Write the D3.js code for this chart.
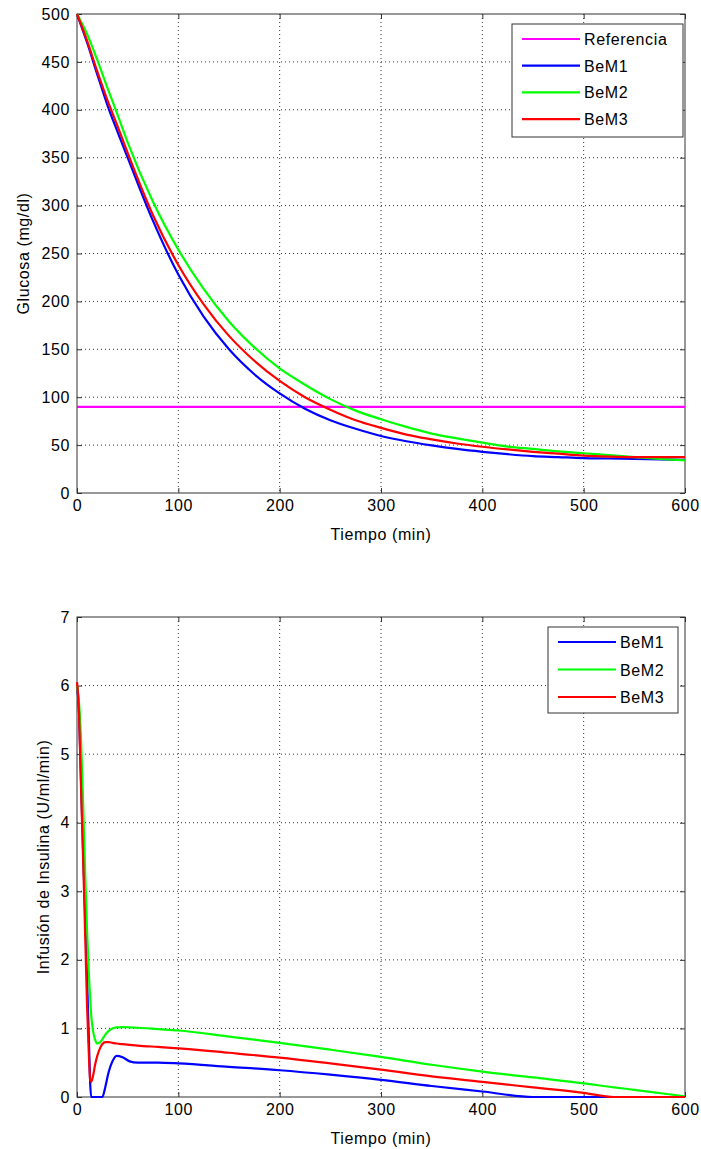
<!DOCTYPE html>
<html>
<head>
<meta charset="utf-8">
<title>Glucosa / Insulina</title>
<script src="https://cdn.jsdelivr.net/npm/d3@7"></script>
<style>
    body { margin: 0; background: #fff; }
    svg text { font-family: "Liberation Sans", Arial, sans-serif; fill: #000; font-size: 16px; letter-spacing: 0.6px; }
    .grid line { stroke: #333; stroke-width: 1; stroke-dasharray: 1,3; }
    .box { fill: none; stroke: #333; stroke-width: 1; }
</style>
</head>
<body>
<script>
    // glucose, mg/dl
    var tGluc = [0, 10, 20, 30, 40, 50, 75, 100, 125, 150, 175, 200, 225, 250, 275, 300, 325, 350, 375, 400, 425, 450, 475, 500, 525, 550, 575, 600];
    var glucBeM1 = [500, 470, 437, 405, 377, 350, 284, 228, 184, 150, 124, 104, 88, 76, 67, 59.5, 54, 49.7, 46, 43, 40.5, 38.5, 37.5, 36.5, 36, 35.5, 35, 34.5];
    var glucBeM2 = [500, 479, 452, 423, 395, 366, 304, 254, 213, 179, 152, 130, 113, 98, 86, 77, 69, 62, 57, 52.5, 48.5, 46, 43.5, 41.5, 39.5, 37.5, 35.5, 34];
    var glucBeM3 = [500, 472, 440, 410, 383, 355, 290, 238, 197, 164, 138, 117, 100, 87, 76, 68, 61, 56, 51.7, 48.3, 45.5, 43, 41, 39, 38, 37.5, 37.5, 37.5];
    var glucRef = 90;

    // insulin infusion, U/ml/min
    var tIns = [0, 2, 4, 6, 8, 10, 12, 13, 14, 16, 18, 20, 23, 25, 28, 31, 35, 39, 45, 52, 60, 80, 100, 150, 200, 250, 300, 350, 400, 450, 500, 530, 550, 600];
    var insBeM1 = [6.0, 5.6, 4.6, 3.6, 2.7, 1.7, 0.7, 0.2, 0, 0, 0, 0, 0, 0, 0.15, 0.35, 0.52, 0.6, 0.58, 0.52, 0.5, 0.5, 0.49, 0.44, 0.39, 0.325, 0.25, 0.16, 0.08, 0, 0, 0, 0, 0];
    var insBeM2 = [6.0, 5.75, 5.2, 4.3, 3.3, 2.4, 1.7, 1.45, 1.2, 0.95, 0.83, 0.78, 0.8, 0.84, 0.91, 0.96, 1.0, 1.015, 1.02, 1.015, 1.01, 0.99, 0.97, 0.88, 0.79, 0.69, 0.585, 0.47, 0.37, 0.285, 0.2, 0.14, 0.105, 0.01];
    var insBeM3 = [6.05, 5.6, 4.5, 3.5, 2.4, 1.3, 0.5, 0.25, 0.22, 0.32, 0.48, 0.6, 0.72, 0.77, 0.8, 0.8, 0.79, 0.78, 0.77, 0.76, 0.75, 0.73, 0.71, 0.645, 0.575, 0.49, 0.40, 0.30, 0.22, 0.14, 0.06, 0, 0, 0];

    var xTicks = [0, 100, 200, 300, 400, 500, 600];
    var glucTicks = [0, 50, 100, 150, 200, 250, 300, 350, 400, 450, 500];
    var insTicks = [0, 1, 2, 3, 4, 5, 6, 7];

    var W = 701, H = 1149;
    var svg = d3.select("body").append("svg")
            .attr("width", W)
            .attr("height", H);

    function panel(opt) {
        var x = d3.scaleLinear().domain([0, 600]).range([opt.left, opt.right]);
        var y = d3.scaleLinear().domain(opt.yDomain).range([opt.bottom, opt.top]);
        var g = svg.append("g");
        var fmt = d3.format("d");

        // dotted grid
        var grid = g.append("g").attr("class", "grid");
        grid.selectAll("line.v").data(xTicks.slice(1, -1)).enter().append("line")
                .attr("x1", x).attr("x2", x)
                .attr("y1", opt.top).attr("y2", opt.bottom);
        grid.selectAll("line.h").data(opt.yTicks.slice(1, -1)).enter().append("line")
                .attr("y1", y).attr("y2", y)
                .attr("x1", opt.left).attr("x2", opt.right);

        // axes, ticks pointing inward on all four sides
        var tl = 5;
        g.append("g").attr("transform", "translate(0," + opt.bottom + ")")
                .call(d3.axisBottom(x).tickValues(xTicks).tickFormat(fmt).tickSizeInner(-tl).tickSizeOuter(0).tickPadding(7));
        g.append("g").attr("transform", "translate(0," + opt.top + ")")
                .call(d3.axisTop(x).tickValues(xTicks).tickSizeInner(-tl).tickSizeOuter(0).tickFormat(""));
        g.append("g").attr("transform", "translate(" + opt.left + ",0)")
                .call(d3.axisLeft(y).tickValues(opt.yTicks).tickFormat(fmt).tickSizeInner(-tl).tickSizeOuter(0).tickPadding(7));
        g.append("g").attr("transform", "translate(" + opt.right + ",0)")
                .call(d3.axisRight(y).tickValues(opt.yTicks).tickSizeInner(-tl).tickSizeOuter(0).tickFormat(""));
        g.selectAll(".domain").remove();
        g.selectAll(".tick line").attr("stroke", "#333");
        g.selectAll(".tick text").attr("font-size", null).attr("font-family", null).attr("fill", "#000");
        g.selectAll(".tick").each(function() { d3.select(this.parentNode).attr("font-size", null).attr("font-family", null); });
        g.append("rect").attr("class", "box")
                .attr("x", opt.left).attr("y", opt.top)
                .attr("width", opt.right - opt.left).attr("height", opt.bottom - opt.top);

        // series
        var line = d3.line()
                .x(function(d) { return x(d[0]); })
                .y(function(d) { return y(d[1]); })
                .curve(d3.curveMonotoneX);
        opt.series.forEach(function(s) {
            g.append("path")
                    .datum(s.t.map(function(t, i) { return [t, s.v[i]]; }))
                    .attr("fill", "none")
                    .attr("stroke", s.color)
                    .attr("stroke-width", 2.2)
                    .attr("d", line);
        });

        // labels
        g.append("text")
                .attr("x", (opt.left + opt.right) / 2).attr("y", opt.bottom + 47)
                .attr("text-anchor", "middle")
                .text("Tiempo (min)");
        g.append("text")
                .attr("transform", "translate(" + opt.yLabelX + "," + (opt.top + opt.bottom) / 2 + ") rotate(-90)")
                .attr("text-anchor", "middle")
                .text(opt.yLabel);

        // legend
        var L = opt.legend;
        var lg = g.append("g");
        lg.append("rect")
                .attr("x", L.x).attr("y", L.y).attr("width", L.w).attr("height", L.h)
                .attr("fill", "#fff").attr("stroke", "#333").attr("stroke-width", 1);
        opt.series.forEach(function(s, i) {
            var yy = L.y + L.first + i * L.step;
            lg.append("line")
                    .attr("x1", L.x + 10).attr("x2", L.x + 68)
                    .attr("y1", yy).attr("y2", yy)
                    .attr("stroke", s.color).attr("stroke-width", 2.2);
            lg.append("text")
                    .attr("x", L.x + 72).attr("y", yy + 6)
                    .text(s.name);
        });
    }

    panel({
        left: 77, right: 685, top: 14, bottom: 493,
        yDomain: [0, 500], yTicks: glucTicks,
        yLabel: "Glucosa (mg/dl)", yLabelX: 29,
        series: [
            { name: "Referencia", color: "#ff00ff", t: [0, 600], v: [glucRef, glucRef] },
            { name: "BeM1", color: "#0000ff", t: tGluc, v: glucBeM1 },
            { name: "BeM2", color: "#00ff00", t: tGluc, v: glucBeM2 },
            { name: "BeM3", color: "#ff0000", t: tGluc, v: glucBeM3 }
        ],
        legend: { x: 512, y: 24, w: 171, h: 113, first: 15, step: 26.7 }
    });

    panel({
        left: 77, right: 685, top: 617, bottom: 1097,
        yDomain: [0, 7], yTicks: insTicks,
        yLabel: "Infusión de Insulina (U/ml/min)", yLabelX: 49,
        series: [
            { name: "BeM1", color: "#0000ff", t: tIns, v: insBeM1 },
            { name: "BeM2", color: "#00ff00", t: tIns, v: insBeM2 },
            { name: "BeM3", color: "#ff0000", t: tIns, v: insBeM3 }
        ],
        legend: { x: 548, y: 627, w: 130, h: 86, first: 15, step: 27.5 }
    });
</script>
</body>
</html>
